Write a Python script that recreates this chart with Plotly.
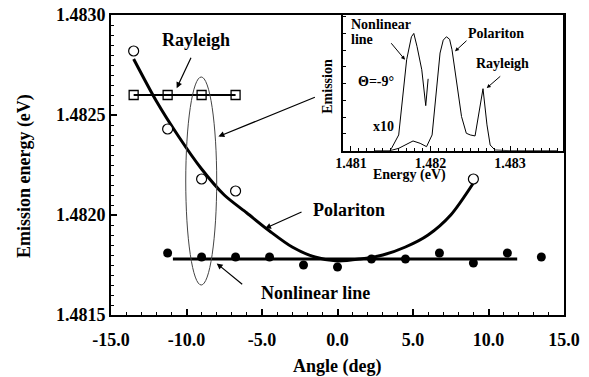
import plotly.graph_objects as go

# ---------------- data ----------------
pol_angle = [-13.5, -11.25, -9.0, -6.75, 9.0]
pol_energy = [1.48282, 1.48243, 1.48218, 1.48212, 1.48218]

ray_angle = [-13.5, -11.25, -9.0, -6.75]
ray_energy = [1.4826, 1.4826, 1.4826, 1.4826]

nl_angle = [-11.25, -9.0, -6.75, -4.5, -2.25, 0.0, 2.25, 4.5, 6.75, 9.0, 11.25, 13.5]
nl_energy = [1.48181, 1.48179, 1.48179, 1.48179, 1.48175, 1.48174,
             1.48178, 1.48178, 1.48181, 1.48176, 1.48181, 1.48179]

pol_fit_angle = [-13.5, -12.0, -10.5, -9.0, -7.5, -6.0, -4.5, -3.0, -1.5, 0.0,
                 1.5, 3.0, 4.5, 6.0, 7.5, 9.0]
pol_fit_energy = [1.48278, 1.48257, 1.48239, 1.48223, 1.48210, 1.48201, 1.48192, 1.48184,
                  1.48179, 1.48177, 1.48178, 1.48180, 1.48184, 1.48190, 1.48200, 1.48216]

nl_fit_angle = [-10.9, 11.9]
nl_fit_energy = [1.48178, 1.48178]

# inset spectra (Theta = -9 deg)
spec_E = [1.48130, 1.48149, 1.48160, 1.48170, 1.48178, 1.48187, 1.48195, 1.48202, 1.48206,
          1.48212, 1.48216, 1.48220, 1.48224, 1.48227, 1.48233, 1.48239, 1.48245, 1.48250,
          1.48256, 1.48260, 1.48266, 1.48271, 1.48275, 1.48281, 1.48300, 1.48360]
spec_I = [0.0, 0.0, 0.14, 0.38, 0.58, 0.44, 0.24, 0.94, 3.04,
          5.83, 6.6, 6.8, 6.65, 6.03, 4.04, 2.04, 1.04, 0.94,
          0.88, 1.94, 3.7, 1.54, 0.34, 0.04, 0.0, 0.0]

x10_E = [1.48149, 1.48151, 1.48160, 1.48164, 1.48166, 1.48170, 1.48176, 1.48179,
         1.48183, 1.48189, 1.48194, 1.48197]
x10_I = [0.0, 0.14, 0.94, 2.74, 3.63, 5.43, 6.8, 7.0, 6.23, 4.83, 2.69, 4.29]

x_ticks = [-15, -10, -5, 0, 5, 10, 15]
x_tick_labels = ["-15.0", "-10.0", "-5.0", "0.0", "5.0", "10.0", "15.0"]
y_ticks = [1.4815, 1.4820, 1.4825, 1.4830]
y_tick_labels = ["1.4815", "1.4820", "1.4825", "1.4830"]
inset_ticks = [1.481, 1.482, 1.483]
inset_tick_labels = ["1.481", "1.482", "1.483"]

FONT = "Liberation Serif"
BLACK = "black"

fig = go.Figure()

# polariton fit
fig.add_trace(go.Scatter(x=pol_fit_angle, y=pol_fit_energy, mode="lines",
                         line=dict(color=BLACK, width=3, shape="spline", smoothing=0.8),
                         showlegend=False))
# nonlinear fit
fig.add_trace(go.Scatter(x=nl_fit_angle, y=nl_fit_energy, mode="lines",
                         line=dict(color=BLACK, width=3), showlegend=False))
# Rayleigh
fig.add_trace(go.Scatter(x=ray_angle, y=ray_energy, mode="lines+markers",
                         line=dict(color=BLACK, width=2),
                         marker=dict(symbol="square-open", size=9, color=BLACK,
                                     line=dict(color=BLACK, width=1.3)),
                         showlegend=False))
# polariton points
fig.add_trace(go.Scatter(x=pol_angle, y=pol_energy, mode="markers",
                         marker=dict(symbol="circle", size=10, color="white",
                                     line=dict(color=BLACK, width=1.2)),
                         showlegend=False))
# nonlinear points
fig.add_trace(go.Scatter(x=nl_angle, y=nl_energy, mode="markers",
                         marker=dict(symbol="circle", size=9, color=BLACK),
                         showlegend=False))

# inset spectra
fig.add_trace(go.Scatter(x=spec_E, y=spec_I, mode="lines", xaxis="x2", yaxis="y2",
                         line=dict(color=BLACK, width=1), showlegend=False))
fig.add_trace(go.Scatter(x=x10_E, y=x10_I, mode="lines", xaxis="x2", yaxis="y2",
                         line=dict(color=BLACK, width=1), showlegend=False))

# ellipse
fig.add_shape(type="circle", xref="x", yref="y", x0=-10.05, x1=-8.0,
              y0=1.48165, y1=1.48269, line=dict(color="#444444", width=1))

tf = dict(family=FONT, size=18, color=BLACK, weight="bold")
sf = dict(family=FONT, size=14, color=BLACK, weight="bold")

# page body adds an 8px margin, so the figure is 8px smaller and shifted
fig.update_layout(
    width=581, height=369,
    margin=dict(l=103, r=25, t=7, b=62, autoexpand=False),
    paper_bgcolor="white", plot_bgcolor="white",
    xaxis=dict(range=[-15, 15], tickvals=x_ticks, ticktext=x_tick_labels, automargin=False,
               showgrid=False, zeroline=False, showline=True, linecolor=BLACK,
               linewidth=2, mirror=True, ticks="inside", ticklen=6, tickwidth=1.5,
               tickcolor=BLACK, tickfont=tf, ticklabelstandoff=7, ticklabeloverflow="allow",
               minor=dict(dtick=1, ticks="inside", ticklen=3, tickwidth=1, tickcolor=BLACK)),
    yaxis=dict(range=[1.4815, 1.4830], tickvals=y_ticks, ticktext=y_tick_labels, automargin=False,
               showgrid=False, zeroline=False, showline=True, linecolor=BLACK,
               linewidth=2, mirror=True, ticks="inside", ticklen=6, tickwidth=1.5,
               tickcolor=BLACK, tickfont=tf, ticklabeloverflow="allow",
               minor=dict(dtick=0.00005, ticks="inside", ticklen=3, tickwidth=1, tickcolor=BLACK)),
    xaxis2=dict(domain=[0.5115, 0.998], anchor="y2", range=[1.480896, 1.483667],
                tickvals=inset_ticks, ticktext=inset_tick_labels, automargin=False,
                showgrid=False, zeroline=False, showline=True, linecolor=BLACK,
                linewidth=1.5, mirror=True, ticks="inside", ticklen=5, tickwidth=1,
                tickcolor=BLACK, tickfont=sf, ticklabelstandoff=-1, ticklabeloverflow="allow",
                minor=dict(dtick=0.0001, tick0=1.481, ticks="inside", ticklen=3, tickwidth=1,
                           tickcolor=BLACK)),
    yaxis2=dict(domain=[0.5477, 1.0], anchor="x2", range=[0, 8.1], dtick=1, automargin=False,
                showticklabels=False, showgrid=False, zeroline=False, showline=True,
                linecolor=BLACK, linewidth=1.5, mirror=True, ticks="inside",
                ticklen=4, tickwidth=1, tickcolor=BLACK),
)

C = dict(xanchor="center", yanchor="middle", showarrow=False)
ann = []
# axis titles
ann.append(dict(text="Emission energy (eV)", xref="paper", yref="paper", x=-0.192, y=0.463,
                textangle=-90, font=tf, **C))
ann.append(dict(text="Angle (deg)", xref="paper", yref="paper", x=0.501, y=-0.172,
                font=tf, **C))
ann.append(dict(text="Emission", xref="paper", yref="paper", x=0.476, y=0.763,
                textangle=-90, font=sf, **C))
ann.append(dict(text="Energy (eV)", xref="paper", yref="paper", x=0.658, y=0.468,
                font=sf, **C))
# main labels
ann.append(dict(text="Rayleigh", x=-9.37, y=1.482875, xref="x", yref="y", font=tf, **C))
ann.append(dict(text="Polariton", x=0.76, y=1.482025, xref="x", yref="y", font=tf, **C))
ann.append(dict(text="Nonlinear line", x=-1.49, y=1.48161, xref="x", yref="y", font=tf, **C))
# main arrows
arrow_style = dict(showarrow=True, arrowhead=2, arrowsize=1, arrowwidth=1.2,
                   arrowcolor=BLACK, text="")
ann.append(dict(x=-10.65, y=1.482634, xref="x", yref="y", ax=15, ay=-32, **arrow_style))
ann.append(dict(x=-7.89, y=1.482392, xref="x", yref="y", ax=98, ay=-40, **arrow_style))
ann.append(dict(x=-4.8, y=1.481933, xref="x", yref="y", ax=38, ay=-17, **arrow_style))
ann.append(dict(x=-8.0, y=1.481758, xref="x", yref="y", ax=27, ay=22, **arrow_style))
# inset labels
L = dict(xanchor="left", yanchor="middle", showarrow=False)
ann.append(dict(text="Nonlinear", x=1.480975, y=7.53, xref="x2", yref="y2", font=sf, **L))
ann.append(dict(text="line", x=1.480975, y=6.63, xref="x2", yref="y2", font=sf, **L))
ann.append(dict(text="Polariton", x=1.48282, y=6.99, xref="x2", yref="y2", font=sf, **C))
ann.append(dict(text="Rayleigh", x=1.482903, y=5.23, xref="x2", yref="y2", font=sf, **C))
ann.append(dict(text="Θ=-9°", x=1.481314, y=4.13, xref="x2", yref="y2", font=sf, **C))
ann.append(dict(text="x10", x=1.481415, y=1.44, xref="x2", yref="y2", font=sf, **C))
# inset arrows
inset_arrow = dict(showarrow=True, arrowhead=2, arrowsize=0.8, arrowwidth=1,
                   arrowcolor=BLACK, text="")
ann.append(dict(x=1.481679, y=5.43, xref="x2", yref="y2", ax=-15, ay=-18, **inset_arrow))
ann.append(dict(x=1.482308, y=5.93, xref="x2", yref="y2", ax=13, ay=-12, **inset_arrow))
ann.append(dict(x=1.482707, y=3.74, xref="x2", yref="y2", ax=15, ay=-13, **inset_arrow))

fig.update_layout(annotations=ann)

fig.write_html("out.html")
